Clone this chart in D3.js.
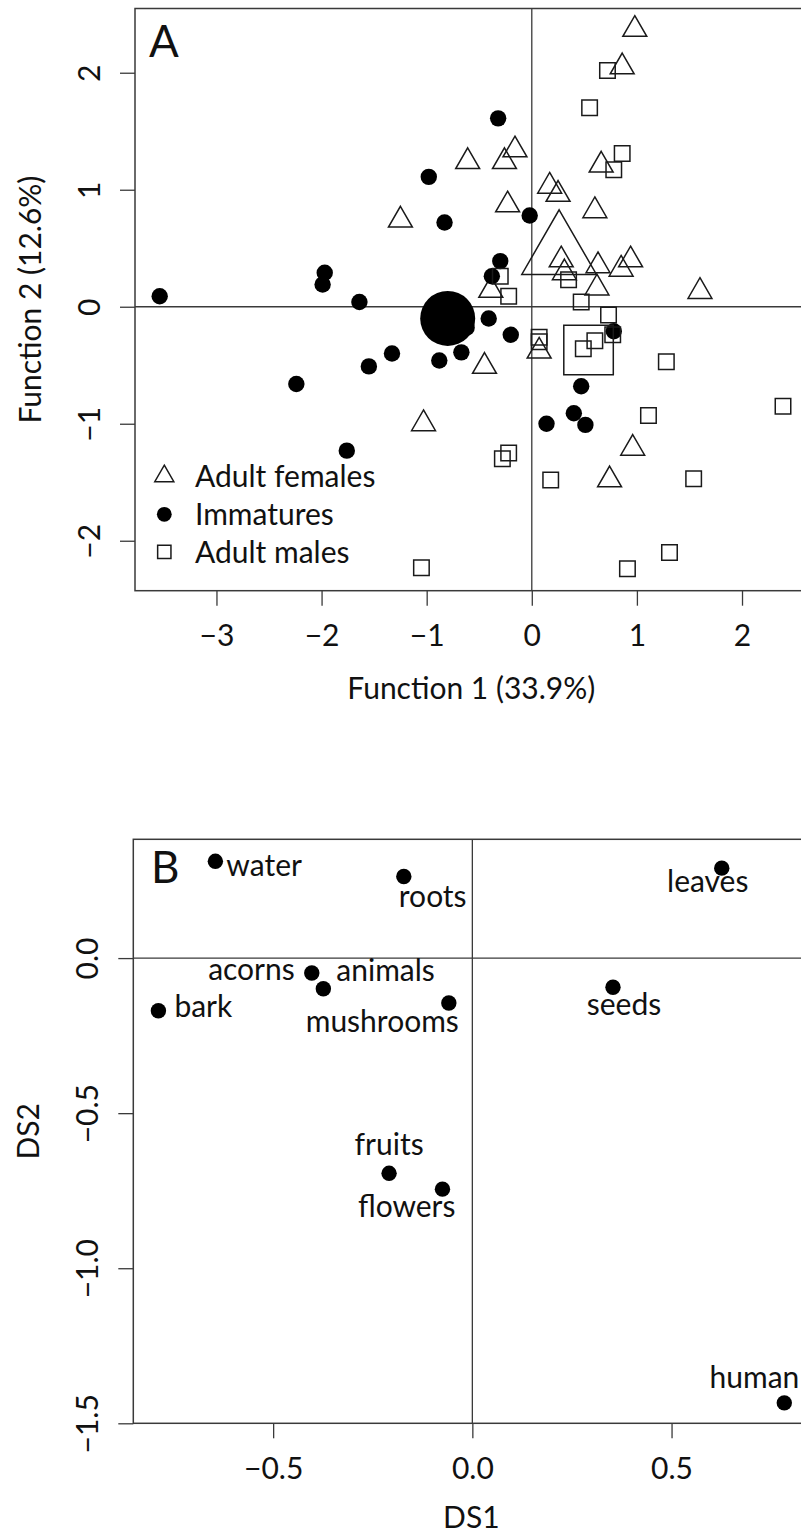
<!DOCTYPE html>
<html>
<head>
<meta charset="utf-8">
<script src="https://cdn.jsdelivr.net/npm/d3@7/dist/d3.min.js"></script>
<style>
  body { margin: 0; background: #fff; }
  svg { display: block; }
  text { font-family: Lato, "Open Sans", sans-serif; fill: #111; }
</style>
</head>
<body>
<svg id="chart" width="801" height="1540"></svg>
<script>
// ---------------- Panel A data: discriminant scores [Function 1, Function 2] ----------------
const groupNames = ["Adult females", "Immatures", "Adult males"];
const adultFemales = [
  [0.98, 2.37], [0.86, 2.05], [-0.16, 1.34], [-0.61, 1.24], [-0.26, 1.24], [0.66, 1.21],
  [0.17, 1.03], [0.25, 0.96], [-0.23, 0.87], [0.60, 0.82], [-1.25, 0.74], [0.28, 0.40],
  [0.63, 0.35], [0.94, 0.40], [0.85, 0.32], [0.31, 0.29], [0.62, 0.16], [1.60, 0.13],
  [-0.39, 0.14], [0.07, -0.38], [-0.45, -0.51], [-1.03, -1.00], [0.96, -1.21], [0.74, -1.48]
];
const immatures = [
  [-0.32, 1.61], [-0.98, 1.11], [-0.83, 0.72], [-0.02, 0.78], [-1.97, 0.29], [-1.99, 0.19],
  [-3.54, 0.09], [-1.64, 0.04], [-0.30, 0.39], [-0.38, 0.26], [-0.41, -0.10], [-0.20, -0.24],
  [-0.62, -0.18], [-0.67, -0.39], [-0.88, -0.46], [-1.33, -0.40], [-1.55, -0.51], [-2.24, -0.66],
  [-1.76, -1.23], [0.78, -0.21], [0.47, -0.68], [0.40, -0.91], [0.51, -1.01], [0.14, -1.00]
];
const adultMales = [
  [0.72, 2.02], [0.55, 1.70], [0.86, 1.31], [0.78, 1.17], [-0.30, 0.26], [0.35, 0.23],
  [-0.22, 0.09], [0.47, 0.04], [0.73, -0.07], [0.77, -0.24], [0.07, -0.26], [0.07, -0.30],
  [0.49, -0.36], [0.60, -0.29], [1.28, -0.47], [1.11, -0.93], [2.39, -0.85], [-0.22, -1.25],
  [-0.28, -1.30], [0.18, -1.48], [1.54, -1.47], [1.31, -2.10], [0.91, -2.24], [-1.05, -2.23]
];
// group centroids (drawn enlarged)
const centroids = [[0.26, 0.46], [-0.80, -0.10], [0.54, -0.37]];
const axisAxTicks = [-3, -2, -1, 0, 1, 2];
const axisAyTicks = [-2, -1, 0, 1, 2];
const titleAx = "Function 1 (33.9%)";
const titleAy = "Function 2 (12.6%)";

// ---------------- Panel B data: structure coefficients ----------------
const foodItems = ["water", "roots", "leaves", "acorns", "animals", "bark", "mushrooms", "seeds", "fruits", "flowers", "human"];
const ds1 = [-0.645, -0.172, 0.626, -0.403, -0.374, -0.788, -0.059, 0.353, -0.209, -0.075, 0.783];
const ds2 = [0.312, 0.263, 0.290, -0.048, -0.099, -0.170, -0.145, -0.094, -0.694, -0.745, -1.434];
const axisBxTicks = [-0.5, 0, 0.5];
const axisByTicks = [-1.5, -1, -0.5, 0];
const titleBx = "DS1";
const titleBy = "DS2";

// ---------------- layout (not data) ----------------
const labelPlacement = {
  water:     { anchor: "start",  dx: 11,  dy: 15 },
  roots:     { anchor: "start",  dx: -5,  dy: 30.5 },
  leaves:    { anchor: "middle", dx: -14, dy: 23.5 },
  acorns:    { anchor: "end",    dx: -17, dy: 7 },
  animals:   { anchor: "start",  dx: 13,  dy: -7.5 },
  bark:      { anchor: "start",  dx: 16,  dy: 6 },
  mushrooms: { anchor: "end",    dx: 10,  dy: 28.5 },
  seeds:     { anchor: "middle", dx: 11,  dy: 28 },
  fruits:    { anchor: "middle", dx: 0,   dy: -18 },
  flowers:   { anchor: "end",    dx: 13,  dy: 27.5 },
  human:     { anchor: "end",    dx: 15,  dy: -14.5 }
};
const FS = 30;
const ink = "#1a1a1a";
const lineCol = "#3a3a3a";

const svg = d3.select("#chart");

function triPath(r) {
  return `M0,${-r}L${0.866 * r},${r / 2}L${-0.866 * r},${r / 2}Z`;
}
function sqPath(s) {
  const h = s / 2;
  return `M${-h},${-h}H${h}V${h}H${-h}Z`;
}

function drawFrame(g, x, y, xt, yt, fmt, xTitle, yTitle, xLabY, xTitY, yLabX, yTitX) {
  const [x0, x1] = x.range();
  const [y0, y1] = y.range(); // y0 bottom, y1 top
  // zero lines
  g.append("line").attr("x1", x0).attr("x2", x1).attr("y1", y(0)).attr("y2", y(0))
    .attr("stroke", lineCol).attr("stroke-width", 1.3);
  g.append("line").attr("x1", x(0)).attr("x2", x(0)).attr("y1", y1).attr("y2", y0)
    .attr("stroke", lineCol).attr("stroke-width", 1.3);
  // box
  g.append("rect").attr("x", x0).attr("y", y1).attr("width", x1 - x0).attr("height", y0 - y1)
    .attr("fill", "none").attr("stroke", lineCol).attr("stroke-width", 1.5);
  // bottom axis
  const ax = g.append("g").attr("transform", `translate(0,${y0})`)
    .call(d3.axisBottom(x).tickValues(xt).tickFormat(fmt).tickSize(15));
  ax.select(".domain").remove();
  ax.selectAll("line").attr("stroke", lineCol).attr("stroke-width", 1.3);
  ax.selectAll("text").attr("y", xLabY - y0).attr("dy", "0.36em")
    .style("font-size", FS + "px").style("font-family", "Lato").attr("fill", ink);
  // left axis
  const ay = g.append("g").attr("transform", `translate(${x0},0)`)
    .call(d3.axisLeft(y).tickValues(yt).tickFormat(fmt).tickSize(15));
  ay.select(".domain").remove();
  ay.selectAll("line").attr("stroke", lineCol).attr("stroke-width", 1.3);
  ay.selectAll("text").attr("transform", "rotate(-90)").attr("x", 0).attr("y", yLabX - x0)
    .attr("dy", "0.36em").attr("text-anchor", "middle")
    .style("font-size", FS + "px").style("font-family", "Lato").attr("fill", ink);
  // titles
  g.append("text").attr("x", (x0 + x1) / 2).attr("y", xTitY).attr("dy", "0.36em")
    .attr("text-anchor", "middle").style("font-size", FS + "px").text(xTitle);
  g.append("text").attr("transform", `translate(${yTitX},${(y0 + y1) / 2}) rotate(-90)`)
    .attr("dy", "0.36em").attr("text-anchor", "middle").style("font-size", FS + "px").text(yTitle);
}

const minusFmt = (d) => d3.format("")(d).replace("-", "\u2212");
const fmtA = (d) => String(d).replace("-", "\u2212");
const fmtB = (d) => d3.format(".1f")(d).replace("-", "\u2212");

// ================= Panel A =================
const xA = d3.scaleLinear().domain([-3.775, 2.624]).range([135, 807.6]);
const yA = d3.scaleLinear().domain([-2.427, 2.549]).range([590.7, 8.5]);
const gA = svg.append("g");
drawFrame(gA, xA, yA, axisAxTicks, axisAyTicks, fmtA, titleAx, titleAy, 635, 688, 89, 30);

gA.append("text").attr("x", 149).attr("y", 57).style("font-size", "44px").text("A");

const pts = gA.append("g");
pts.selectAll(".fem").data(adultFemales).join("path")
  .attr("d", triPath(13.8))
  .attr("transform", d => `translate(${xA(d[0])},${yA(d[1])})`)
  .attr("fill", "none").attr("stroke", ink).attr("stroke-width", 1.5);
pts.selectAll(".imm").data(immatures).join("circle")
  .attr("cx", d => xA(d[0])).attr("cy", d => yA(d[1])).attr("r", 8.2).attr("fill", "#000");
pts.selectAll(".mal").data(adultMales).join("path")
  .attr("d", sqPath(15.5))
  .attr("transform", d => `translate(${xA(d[0])},${yA(d[1])})`)
  .attr("fill", "none").attr("stroke", ink).attr("stroke-width", 1.5);

// centroids
const cen = gA.append("g");
cen.append("path").attr("d", triPath(43.1))
  .attr("transform", `translate(${xA(centroids[0][0])},${yA(centroids[0][1])})`)
  .attr("fill", "none").attr("stroke", ink).attr("stroke-width", 1.5);
cen.append("circle").attr("cx", xA(centroids[1][0])).attr("cy", yA(centroids[1][1]))
  .attr("r", 27.5).attr("fill", "#000");
cen.append("path").attr("d", sqPath(49.5))
  .attr("transform", `translate(${xA(centroids[2][0])},${yA(centroids[2][1])})`)
  .attr("fill", "none").attr("stroke", ink).attr("stroke-width", 1.5);

// legend
const leg = gA.append("g");
const legBase = [486.7, 525, 563.3];
const legSymX = 164.3;
leg.append("path").attr("d", triPath(11)).attr("transform", `translate(${legSymX},${legBase[0] - 10.5})`)
  .attr("fill", "none").attr("stroke", ink).attr("stroke-width", 1.5);
leg.append("circle").attr("cx", legSymX).attr("cy", legBase[1] - 10.7).attr("r", 7.4).attr("fill", "#000");
leg.append("path").attr("d", sqPath(13.3)).attr("transform", `translate(${legSymX},${legBase[2] - 11.5})`)
  .attr("fill", "none").attr("stroke", ink).attr("stroke-width", 1.5);
leg.selectAll("text").data(groupNames).join("text")
  .attr("x", 195).attr("y", (d, i) => legBase[i]).style("font-size", FS + "px").text(d => d);

// ================= Panel B =================
const xB = d3.scaleLinear().domain([-0.851, 0.846]).range([133.3, 809.4]);
const yB = d3.scaleLinear().domain([-1.5, 0.383]).range([1423.3, 839.3]);
const gB = svg.append("g");
drawFrame(gB, xB, yB, axisBxTicks, axisByTicks, fmtB, titleBx, titleBy, 1468, 1517, 87, 28);

gB.append("text").attr("x", 151).attr("y", 883).style("font-size", "44px").text("B");

const items = foodItems.map((name, i) => ({ name, x: ds1[i], y: ds2[i] }));
gB.selectAll(".dot").data(items).join("circle")
  .attr("cx", d => xB(d.x)).attr("cy", d => yB(d.y)).attr("r", 7.7).attr("fill", "#000");
gB.selectAll(".lab").data(items).join("text")
  .attr("x", d => xB(d.x) + labelPlacement[d.name].dx)
  .attr("y", d => yB(d.y) + labelPlacement[d.name].dy)
  .attr("text-anchor", d => labelPlacement[d.name].anchor)
  .style("font-size", FS + "px")
  .text(d => d.name);
</script>
</body>
</html>
